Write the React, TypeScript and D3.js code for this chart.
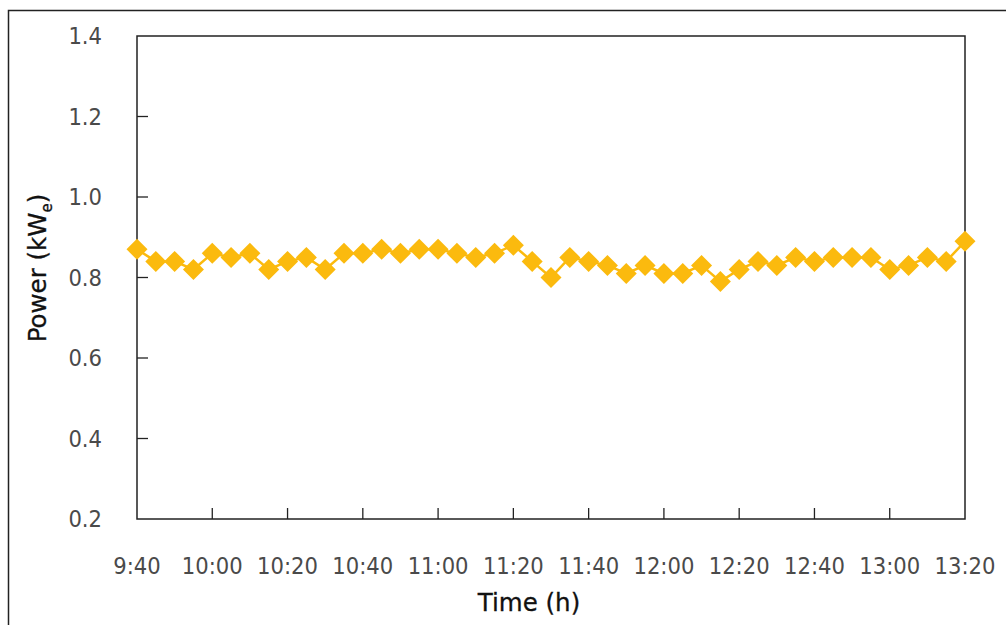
import React from "react";
import * as d3 from "d3";

const times = [
  "9:40", "9:45", "9:50", "9:55", "10:00", "10:05", "10:10", "10:15", "10:20", "10:25",
  "10:30", "10:35", "10:40", "10:45", "10:50", "10:55", "11:00", "11:05", "11:10", "11:15",
  "11:20", "11:25", "11:30", "11:35", "11:40", "11:45", "11:50", "11:55", "12:00", "12:05",
  "12:10", "12:15", "12:20", "12:25", "12:30", "12:35", "12:40", "12:45", "12:50", "12:55",
  "13:00", "13:05", "13:10", "13:15", "13:20",
];
const power = [
  0.87, 0.84, 0.84, 0.82, 0.86, 0.85, 0.86, 0.82, 0.84, 0.85,
  0.82, 0.86, 0.86, 0.87, 0.86, 0.87, 0.87, 0.86, 0.85, 0.86,
  0.88, 0.84, 0.80, 0.85, 0.84, 0.83, 0.81, 0.83, 0.81, 0.81,
  0.83, 0.79, 0.82, 0.84, 0.83, 0.85, 0.84, 0.85, 0.85, 0.85,
  0.82, 0.83, 0.85, 0.84, 0.89,
];
const xTickLabels = ["9:40", "10:00", "10:20", "10:40", "11:00", "11:20", "11:40", "12:00", "12:20", "12:40", "13:00", "13:20"];
const yTicks = [0.2, 0.4, 0.6, 0.8, 1.0, 1.2, 1.4];

const toMin = (t: string) => {
  const [h, m] = t.split(":").map(Number);
  return h * 60 + m;
};

export default function App() {
  const W = 1006, H = 625;
  const left = 137, right = 965, top = 36, bottom = 519;
  const x = d3.scaleLinear().domain([toMin("9:40"), toMin("13:20")]).range([left, right]);
  const y = d3.scaleLinear().domain([0.2, 1.4]).range([bottom, top]);
  const pts = times.map((t, i) => [x(toMin(t)), y(power[i])] as [number, number]);
  const line = d3.line()(pts) || "";
  const color = "#FBBA0E";
  const font = "'DejaVu Sans Condensed', 'DejaVu Sans', sans-serif";
  const titleFont = "'DejaVu Sans', sans-serif";
  const d = 10.5;
  return (
    <svg width={W} height={H} style={{ position: "absolute", left: 0, top: 0, background: "#fff" }}>
      <rect x={8.5} y={10.5} width={1010} height={630} fill="none" stroke="#222" strokeWidth={1.5} />
      <rect x={left} y={top} width={right - left} height={bottom - top} fill="none" stroke="#222" strokeWidth={1.5} />
      {yTicks.map((v) => (
        <g key={v}>
          {v > 0.2 && v < 1.4 && <line x1={left} x2={left + 11} y1={y(v)} y2={y(v)} stroke="#222" strokeWidth={1.3} />}
          <text x={102} y={y(v)} dy="0.36em" textAnchor="end" fontFamily={font} fontSize={23.5} fill="#4a4a4a">
            {v.toFixed(1)}
          </text>
        </g>
      ))}
      {xTickLabels.map((t, i) => (
        <g key={t}>
          {i > 0 && i < xTickLabels.length - 1 && (
            <line x1={x(toMin(t))} x2={x(toMin(t))} y1={bottom} y2={bottom - 11} stroke="#222" strokeWidth={1.3} />
          )}
          <text x={x(toMin(t))} y={574} textAnchor="middle" fontFamily={font} fontSize={23.5} fill="#4a4a4a">
            {t}
          </text>
        </g>
      ))}
      <text x={529} y={611} textAnchor="middle" fontFamily={titleFont} fontSize={24.5} fill="#111" stroke="#111" strokeWidth={0.3}>
        Time (h)
      </text>
      <text transform={`translate(46,268) rotate(-90)`} textAnchor="middle" fontFamily={titleFont} fontSize={24.5} fill="#111" stroke="#111" strokeWidth={0.3}>
        Power (kW<tspan fontSize={15} dy={6}>e</tspan><tspan dy={-6}>)</tspan>
      </text>
      <path d={line} fill="none" stroke={color} strokeWidth={2.5} />
      {pts.map(([px, py], i) => (
        <path key={i} d={`M${px},${py - d}L${px + d},${py}L${px},${py + d}L${px - d},${py}Z`} fill={color} />
      ))}
    </svg>
  );
}
